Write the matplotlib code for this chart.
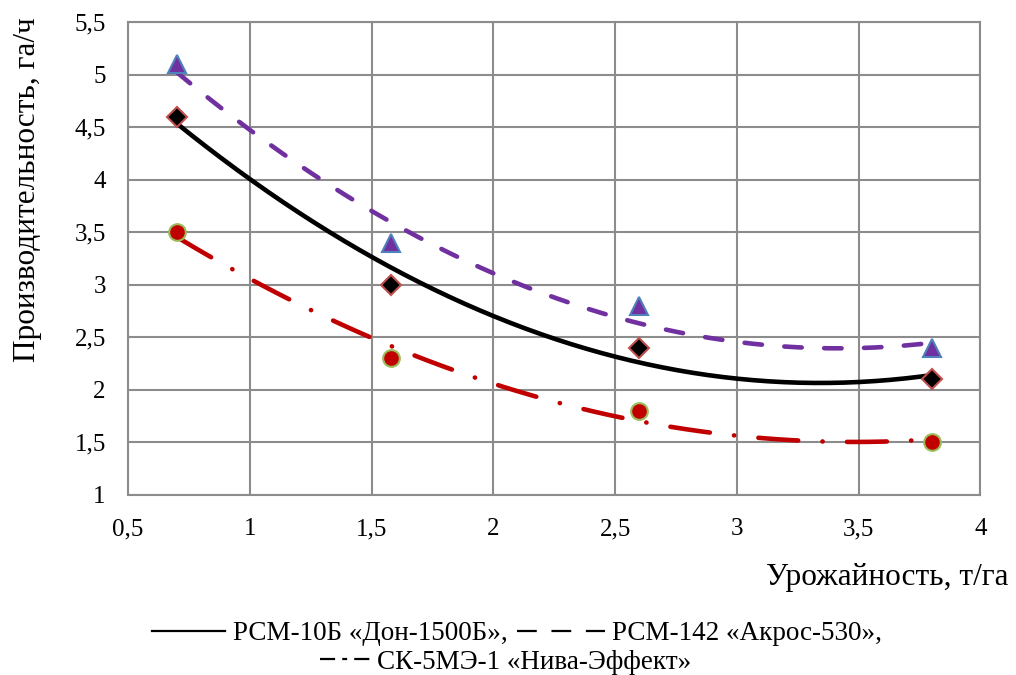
import matplotlib.pyplot as plt
from matplotlib.lines import Line2D
from matplotlib.ticker import FuncFormatter
import numpy as np

plt.rcParams["font.family"] = ["Liberation Serif", "DejaVu Serif"]

# Урожайность, т/га
yield_t = [0.7, 1.58, 2.6, 3.8]

# Производительность, га/ч
don_1500 = [4.6, 3.0, 2.4, 2.1]
akros_530 = [5.1, 3.4, 2.8, 2.4]
niva = [3.5, 2.3, 1.8, 1.5]

labels = [
    "РСМ-10Б «Дон-1500Б»,",
    "РСМ-142 «Акрос-530»,",
    "СК-5МЭ-1 «Нива-Эффект»",
]


def comma(x, pos):
    s = f"{x:g}"
    return s.replace(".", ",")


fig = plt.figure(figsize=(10.16, 6.75), dpi=100)
ax = fig.add_axes([0.126, 0.267, 0.839, 0.7])

xs = np.linspace(min(yield_t), max(yield_t), 200)

series = [
    # values, line color, line style, marker, size, face, edge
    (akros_530, "#7030A0", (0, (3.8, 4.9)), "^", 13.5, "#7030A0", "#4F81BD"),
    (don_1500, "black", "-", "D", 10.5, "black", "#C0504D"),
    (niva, "#C00000", (0, (8.7, 5.3, 0.05, 5.3)), "o", 12, "#C00000", "#9BBB59"),
]

# polynomial (2nd order) trend lines with the measured points on top
for vals, lc, ls, mk, ms, fc, ec in series:
    coef = np.polyfit(yield_t, vals, 2)
    ax.plot(xs, np.polyval(coef, xs), color=lc, linestyle=ls, lw=3.3,
            dash_capstyle="round", solid_capstyle="round", zorder=3)

for vals, lc, ls, mk, ms, fc, ec in series:
    ax.plot(yield_t, vals, linestyle="none", marker=mk, ms=ms,
            markerfacecolor=fc, markeredgecolor=ec, markeredgewidth=1.5, zorder=4)

ax.set_xlim(0.5, 4)
ax.set_ylim(1, 5.5)
ax.set_xticks(np.arange(0.5, 4.01, 0.5))
ax.set_yticks(np.arange(1, 5.51, 0.5))
ax.xaxis.set_major_formatter(FuncFormatter(comma))
ax.yaxis.set_major_formatter(FuncFormatter(comma))
ax.tick_params(labelsize=18, length=0)
ax.tick_params(axis="y", pad=16)
ax.tick_params(axis="x", pad=17)

ax.grid(True, color="#8c8c8c", lw=1.5)
ax.set_axisbelow(True)
for sp in ax.spines.values():
    sp.set_color("#8c8c8c")
    sp.set_linewidth(1.5)

fig.text(0.027, 0.719, "Производительность, га/ч", fontsize=22.5,
         rotation=90, ha="center", va="center")
fig.text(0.993, 0.144, "Урожайность, т/га", fontsize=22.5, ha="right", va="center")

# legend: one entry per box, laid out as two centred rows
handles = [
    Line2D([], [], color="black", lw=1.6),
    Line2D([], [], color="black", lw=1.6, linestyle=(0, (8.9, 6.6))),
    Line2D([], [], color="black", lw=1.6, linestyle=(0, (6.8, 3.2, 2.2, 3.2))),
]
entry_pos = [(0.1496, 0.061), (0.509, 0.061), (0.315, 0.019)]
entry_hlen = [2.7, 3.25, 1.95]
entry_pad = [0.3, 0.26, 0.15]
for h, lab, pos, hl, tp in zip(handles, labels, entry_pos, entry_hlen, entry_pad):
    fig.legend([h], [lab], loc="center left", bbox_to_anchor=pos, frameon=False,
               fontsize=19.5, handlelength=hl, handletextpad=tp,
               borderaxespad=0, borderpad=0)

fig.savefig("out.png", dpi=100)
